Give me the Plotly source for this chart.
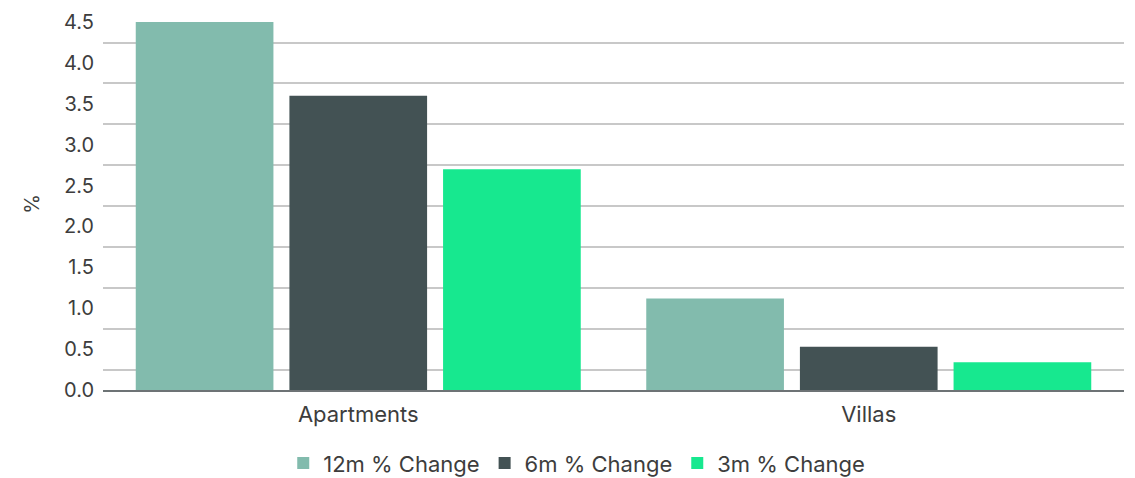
import plotly.graph_objects as go

# Price change by property type (%)
categories = ["Apartments", "Villas"]
series_names = ["12m % Change", "6m % Change", "3m % Change"]
change_12m = [4.5, 1.12]
change_6m = [3.6, 0.53]
change_3m = [2.7, 0.34]
series_colors = ["#82BBAD", "#435254", "#17E88F"]

tick_values = [0, 0.5, 1, 1.5, 2, 2.5, 3, 3.5, 4, 4.5]
tick_labels = ["0.0", "0.5", "1.0", "1.5", "2.0", "2.5", "3.0", "3.5", "4.0", "4.5"]
grid_values = [0.25, 0.75, 1.25, 1.75, 2.25, 2.75, 3.25, 3.75, 4.25]

text_color = "#3d3d3d"
font_family = "Inter, Roboto, Arial, sans-serif"

fig = go.Figure()
for name, vals, color in zip(series_names, [change_12m, change_6m, change_3m], series_colors):
    fig.add_trace(go.Bar(
        x=categories, y=vals, name=name,
        marker=dict(color=color, line=dict(width=0)),
    ))

fig.update_layout(
    width=1135, height=478,
    margin=dict(l=103, r=11, t=18, b=88, autoexpand=False),
    paper_bgcolor="white", plot_bgcolor="white",
    barmode="group", bargap=0.097, bargroupgap=0.104,
    font=dict(family=font_family, size=20, color=text_color),
    showlegend=True,
    legend=dict(
        orientation="h", xref="paper", x=0.464, xanchor="center",
        yref="paper", y=-0.197, yanchor="middle",
        font=dict(size=22, color=text_color),
        itemwidth=30, traceorder="normal",
    ),
)

fig.update_xaxes(
    showgrid=False, showline=True, linecolor="#6d7375", linewidth=2,
    ticks="", tickfont=dict(size=22, color=text_color), ticklabelstandoff=4,
)
fig.update_yaxes(
    range=[0, 4.55], tickvals=tick_values, ticktext=tick_labels,
    showgrid=False, zeroline=False, showline=False, ticks="",
    tickfont=dict(size=20, color=text_color), ticklabelstandoff=8,
    minor=dict(tickvals=grid_values, showgrid=True, gridcolor="#c8c8c8", gridwidth=2, ticks=""),
    title=dict(text="%", font=dict(size=20, color=text_color), standoff=18),
)

fig.write_html("out.html")
